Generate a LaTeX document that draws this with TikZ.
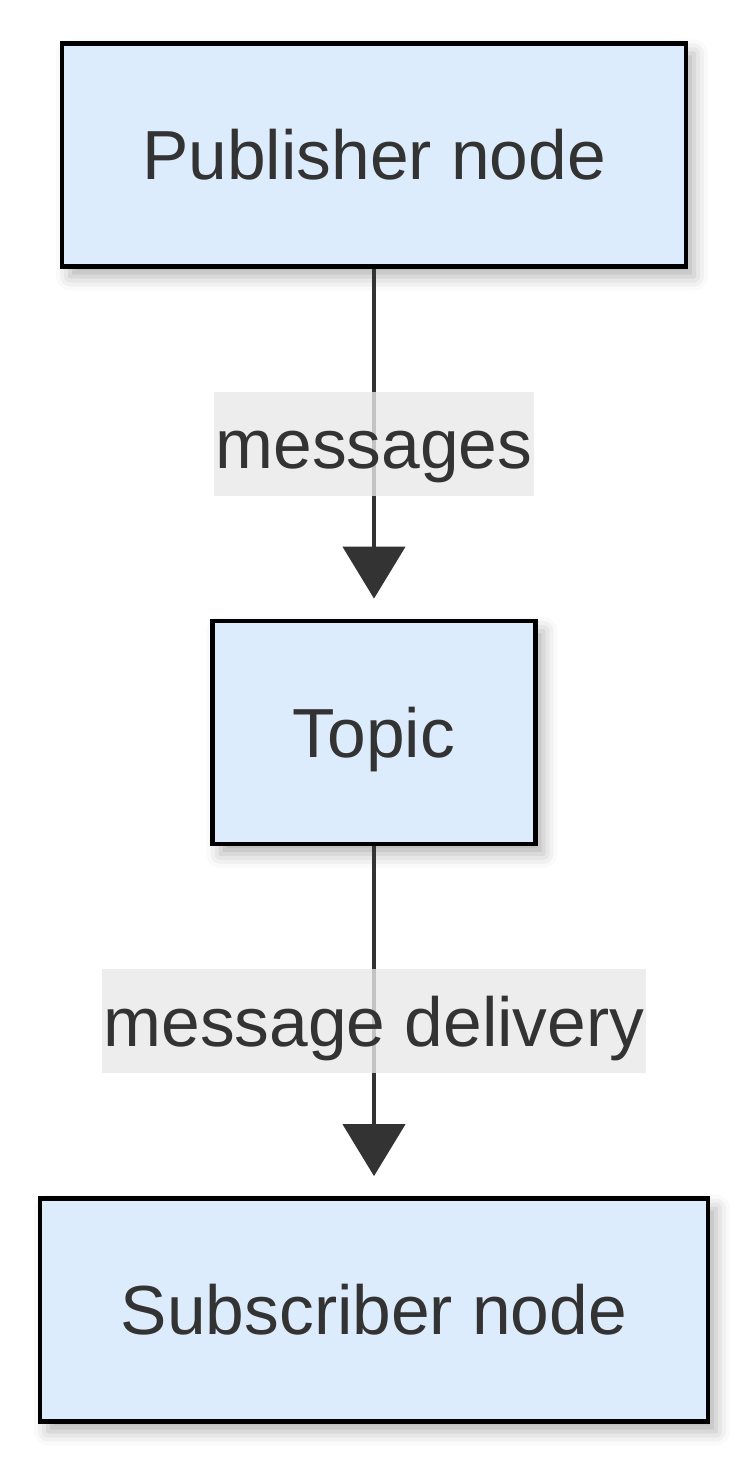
\documentclass[tikz,border=0pt]{standalone}
\usepackage{fontspec}
\setmainfont{Liberation Sans}
\usetikzlibrary{arrows.meta,shadows.blur}
\definecolor{boxfill}{RGB}{221,236,252}
\definecolor{ink}{RGB}{51,51,51}
\definecolor{labelbg}{RGB}{232,232,232}
\begin{document}
\begin{tikzpicture}[x=0.5pt,y=-0.5pt,
  box/.style={draw=black,line width=2.4pt,fill=boxfill,text=ink,
    minimum height=111.5pt,font=\fontsize{34.75}{40}\selectfont,
    text height=24.9pt,text depth=0pt,
    blur shadow={shadow xshift=4pt,shadow yshift=-5pt,shadow blur radius=7pt,shadow opacity=30}},
  flow/.style={draw=ink,line width=2.3pt,-{Triangle[length=26pt,width=31pt]},shorten >=10pt},
  tag/.style={fill=labelbg,fill opacity=0.8,text opacity=1,text=ink,
    inner xsep=1pt,minimum height=52pt,font=\fontsize{34.75}{40}\selectfont,
    text height=24.9pt,text depth=0pt}]
\useasboundingbox (0,0) rectangle (749,1465);
\node[box,minimum width=312pt] (pub) at (374,155) {Publisher node};
\node[box,minimum width=161.5pt] (topic) at (374,732.5) {Topic};
\node[box,minimum width=334pt] (sub) at (374,1310) {Subscriber node};
% edges with their labels
\draw[flow] (pub) -- node[tag] {messages} (topic);
\draw[flow] (topic) -- node[tag] {message delivery} (sub);
\end{tikzpicture}
\end{document}
